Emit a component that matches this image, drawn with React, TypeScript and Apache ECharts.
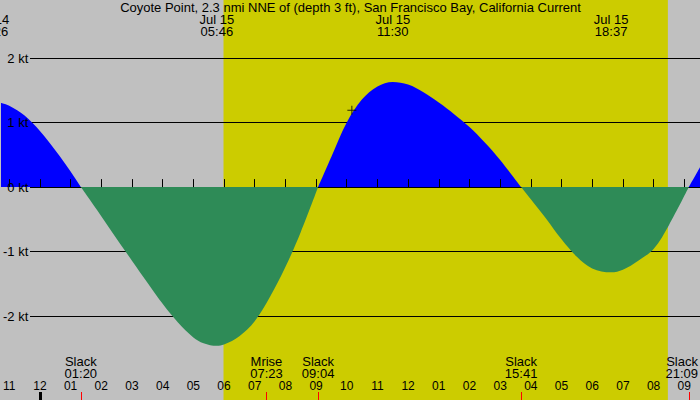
import React, { useEffect, useRef } from "react";
import * as echarts from "echarts";

const TITLE = "Coyote Point, 2.3 nmi NNE of (depth 3 ft), San Francisco Bay, California Current";

// times as "DD HH:MM" (July)
const CURVE_TIMES = [
  "14 22:26", "14 22:46", "14 23:00", "14 23:30", "15 00:00", "15 00:30", "15 01:00", "15 01:20",
  "15 01:30", "15 02:00", "15 02:30", "15 03:00", "15 03:30", "15 04:00", "15 04:30", "15 05:00",
  "15 05:20", "15 05:46", "15 06:00", "15 06:30", "15 07:00", "15 07:30", "15 08:00", "15 08:30",
  "15 09:04", "15 09:30", "15 10:00", "15 10:30", "15 11:00", "15 11:30", "15 12:00", "15 12:30",
  "15 13:00", "15 13:30", "15 14:00", "15 14:30", "15 15:00", "15 15:41", "15 16:00", "15 16:30",
  "15 17:00", "15 17:30", "15 18:00", "15 18:37", "15 19:00", "15 19:30", "15 20:00", "15 20:30",
  "15 21:09", "15 21:31",
];
const CURVE_KT = [
  1.32, 1.30, 1.26, 1.11, 0.87, 0.57, 0.24, 0,
  -0.11, -0.45, -0.80, -1.14, -1.48, -1.81, -2.10, -2.33,
  -2.42, -2.46, -2.44, -2.31, -2.08, -1.70, -1.24, -0.70,
  0, 0.47, 1.00, 1.36, 1.56, 1.63, 1.59, 1.47,
  1.31, 1.13, 0.93, 0.69, 0.42, 0, -0.19, -0.49,
  -0.81, -1.08, -1.26, -1.32, -1.28, -1.14, -0.96, -0.59,
  0, 0.31,
];

const PEAK_TIMES = ["14 22:26", "15 05:46", "15 11:30", "15 18:37"];
const PEAK_DATES = ["Jul 14", "Jul 15", "Jul 15", "Jul 15"];
const PEAK_CLOCK = ["22:26", "05:46", "11:30", "18:37"];

const EVENT_TIMES = ["15 01:20", "15 07:23", "15 09:04", "15 15:41", "15 21:09"];
const EVENT_NAMES = ["Slack", "Mrise", "Slack", "Slack", "Slack"];
const EVENT_CLOCK = ["01:20", "07:23", "09:04", "15:41", "21:09"];

const HOUR_TICK_TIMES = [
  "14 23:00", "15 00:00", "15 01:00", "15 02:00", "15 03:00", "15 04:00", "15 05:00", "15 06:00",
  "15 07:00", "15 08:00", "15 09:00", "15 10:00", "15 11:00", "15 12:00", "15 13:00", "15 14:00",
  "15 15:00", "15 16:00", "15 17:00", "15 18:00", "15 19:00", "15 20:00", "15 21:00",
];
const HOUR_LABELS = [
  "11", "12", "01", "02", "03", "04", "05", "06", "07", "08", "09", "10", "11", "12",
  "01", "02", "03", "04", "05", "06", "07", "08", "09",
];
const DAY_BREAKS = ["15 00:00"];

const SUNRISE = "15 05:59";
const SUNSET = "15 20:28";

const NOW_TIME = "15 10:10";
const NOW_KT = 1.19;

const KT_TICKS_MIN = -2;
const KT_TICKS_MAX = 2;

const X_MIN = 1365.8;
const X_MAX = 2730.8;
const Y_MIN = -3.3;
const Y_MAX = 2.9;

const FONT = "Liberation Sans, Arial, Helvetica, sans-serif";

function toMin(s: string): number {
  const [d, hm] = s.split(" ");
  const [h, m] = hm.split(":").map(Number);
  return (Number(d) - 14) * 1440 + h * 60 + m;
}

let measureCtx: CanvasRenderingContext2D | null = null;
function textWidth(t: string, size: number): number {
  if (!measureCtx) measureCtx = document.createElement("canvas").getContext("2d");
  if (!measureCtx) return t.length * size * 0.55;
  measureCtx.font = `${size}px ${FONT}`;
  return measureCtx.measureText(t).width;
}

export default function App() {
  const ref = useRef<HTMLDivElement>(null);
  useEffect(() => {
    document.body.style.margin = "0";
    const chart = echarts.init(ref.current!, undefined, { renderer: "svg" });
    const H = 400;
    const PX = H / (Y_MAX - Y_MIN);
    const hourTicks = HOUR_TICK_TIMES.map(toMin);
    const ktGrid = {
      left: 30,
      right: 0,
      top: (Y_MAX - KT_TICKS_MAX) * PX,
      bottom: H - (Y_MAX - KT_TICKS_MIN) * PX,
    };

    // flood (>= 0) and ebb (<= 0) pieces; the opposite sign becomes a gap
    const flood = CURVE_TIMES.map((t, i) => [toMin(t), CURVE_KT[i] >= 0 ? CURVE_KT[i] : null]);
    const ebb = CURVE_TIMES.map((t, i) => [toMin(t), CURVE_KT[i] <= 0 ? CURVE_KT[i] : null]);

    const areaSeries = (data: any[], color: string) => ({
      type: "line",
      z: 3,
      xAxisIndex: 0,
      yAxisIndex: 0,
      data,
      smooth: 0.35,
      connectNulls: false,
      symbol: "none",
      lineStyle: { width: 0, opacity: 0 },
      areaStyle: { color, opacity: 1 },
    });

    chart.setOption({
      animation: false,
      backgroundColor: "#c0c0c0",
      grid: [{ left: 0, right: 0, top: 0, bottom: 0 }, ktGrid, ktGrid],
      xAxis: [
        {
          type: "value",
          gridIndex: 0,
          min: X_MIN,
          max: X_MAX,
          axisLine: { show: false },
          splitLine: { show: false },
          axisTick: {
            show: true,
            inside: true,
            length: 8,
            customValues: hourTicks,
            lineStyle: { color: "#000", width: 1 },
          },
          axisLabel: {
            show: true,
            inside: true,
            margin: 8,
            customValues: hourTicks,
            color: "#000",
            fontSize: 12,
            fontFamily: FONT,
            formatter: (v: number) => HOUR_LABELS[hourTicks.indexOf(v)] ?? "",
          },
          z: 4,
        },
        { type: "value", gridIndex: 1, min: 0, max: 1, show: false },
        { type: "value", gridIndex: 2, min: 0, max: 1, show: false },
      ],
      yAxis: [
        { type: "value", gridIndex: 0, min: Y_MIN, max: Y_MAX, show: false },
        {
          type: "value",
          gridIndex: 1,
          min: KT_TICKS_MIN,
          max: KT_TICKS_MAX,
          interval: 1,
          axisLine: { show: false },
          axisTick: { show: false },
          splitLine: { show: true, lineStyle: { color: "#000", width: 1 } },
          axisLabel: { show: false },
          z: 2,
        },
        {
          type: "value",
          gridIndex: 2,
          min: KT_TICKS_MIN,
          max: KT_TICKS_MAX,
          interval: 1,
          axisLine: { show: false },
          axisTick: { show: false },
          splitLine: { show: false },
          axisLabel: {
            formatter: "{value} kt",
            color: "#000",
            fontSize: 13,
            fontFamily: FONT,
            margin: 2,
          },
          z: 7,
        },
      ],
      graphic: [
        {
          type: "text",
          x: 350.5,
          y: 7.5,
          z: 10,
          style: {
            text: TITLE,
            align: "center",
            verticalAlign: "middle",
            fontSize: 13,
            fontFamily: FONT,
            fill: "#000",
          },
        },
      ],
      series: [
        {
          type: "custom",
          z: 1,
          xAxisIndex: 0,
          yAxisIndex: 0,
          data: [[toMin(SUNRISE), toMin(SUNSET)]],
          encode: { x: [0, 1] },
          renderItem: (params: any, api: any) => {
            const x1 = api.coord([api.value(0), 0])[0];
            const x2 = api.coord([api.value(1), 0])[0];
            const cs = params.coordSys;
            return {
              type: "rect",
              shape: { x: x1, y: cs.y, width: x2 - x1, height: cs.height },
              style: { fill: "#cccc00" },
            };
          },
        },
        areaSeries(flood, "#0000ff"),
        areaSeries(ebb, "#2e8b57"),
        {
          type: "scatter",
          z: 5,
          xAxisIndex: 0,
          yAxisIndex: 0,
          data: [[toMin(NOW_TIME), NOW_KT]],
          symbol: "path://M4,0H5V9H4ZM0,4H9V5H0Z",
          symbolSize: 9,
          itemStyle: { color: "#000" },
        },
        {
          // peak labels (top)
          type: "custom",
          z: 6,
          xAxisIndex: 0,
          yAxisIndex: 0,
          clip: false,
          data: PEAK_TIMES.map((t) => [toMin(t), 0]),
          encode: { x: 0, y: 1 },
          renderItem: (params: any, api: any) => {
            const i = params.dataIndex;
            const x = api.coord([api.value(0), 0])[0];
            const cs = params.coordSys;
            return {
              type: "text",
              x,
              y: cs.y + 25.5,
              style: {
                text: PEAK_DATES[i] + "\n" + PEAK_CLOCK[i],
                align: "center",
                verticalAlign: "middle",
                lineHeight: 12,
                fontSize: 13,
                fontFamily: FONT,
                fill: "#000",
              },
            };
          },
        },
        {
          // event labels and red ticks (bottom)
          type: "custom",
          z: 6,
          xAxisIndex: 0,
          yAxisIndex: 0,
          clip: false,
          data: EVENT_TIMES.map((t) => [toMin(t), 0]),
          encode: { x: 0, y: 1 },
          renderItem: (params: any, api: any) => {
            const i = params.dataIndex;
            const x = api.coord([api.value(0), 0])[0];
            const cs = params.coordSys;
            const bottom = cs.y + cs.height;
            const w = Math.max(textWidth(EVENT_NAMES[i], 13), textWidth(EVENT_CLOCK[i], 13));
            const right = cs.x + cs.width - 2;
            let tx = x;
            let align = "center";
            if (x + w / 2 > right) {
              tx = right;
              align = "right";
            }
            return {
              type: "group",
              children: [
                {
                  type: "line",
                  shape: { x1: Math.round(x) + 0.5, y1: bottom - 8, x2: Math.round(x) + 0.5, y2: bottom },
                  style: { stroke: "#ff0000", lineWidth: 1 },
                },
                {
                  type: "text",
                  x: tx,
                  y: bottom - 32.2,
                  style: {
                    text: EVENT_NAMES[i] + "\n" + EVENT_CLOCK[i],
                    align,
                    verticalAlign: "middle",
                    lineHeight: 12,
                    fontSize: 13,
                    fontFamily: FONT,
                    fill: "#000",
                  },
                },
              ],
            };
          },
        },
        {
          // thick midnight tick
          type: "custom",
          z: 6,
          xAxisIndex: 0,
          yAxisIndex: 0,
          data: DAY_BREAKS.map((t) => [toMin(t), 0]),
          encode: { x: 0, y: 1 },
          renderItem: (params: any, api: any) => {
            const x = api.coord([api.value(0), 0])[0];
            const cs = params.coordSys;
            const bottom = cs.y + cs.height;
            return {
              type: "rect",
              shape: { x: Math.round(x) - 1, y: bottom - 8, width: 3, height: 8 },
              style: { fill: "#000" },
            };
          },
        },
      ],
    });
    return () => chart.dispose();
  }, []);
  return (
    <div
      ref={ref}
      style={{ position: "fixed", left: 0, top: 0, width: 700, height: 400 }}
    />
  );
}
